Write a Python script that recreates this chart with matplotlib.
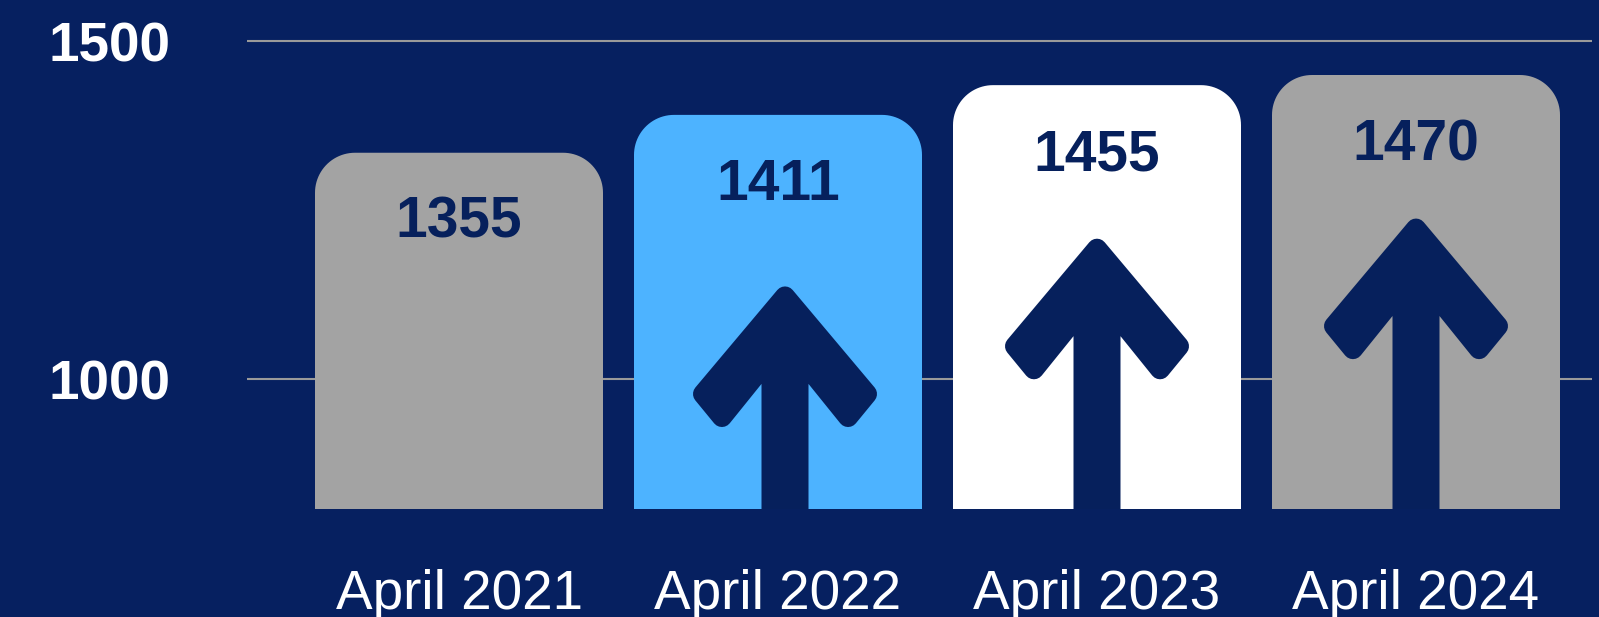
import numpy as np
import matplotlib
matplotlib.use('Agg')
import matplotlib.pyplot as plt
from matplotlib.patches import Polygon

# Data
kategorie = ['April 2021', 'April 2022', 'April 2023', 'April 2024']
hodnoty = [1355, 1411, 1455, 1470]
y_ticky = [1000, 1500]

# Colours
pozadie = '#062060'
farby_stlpcov = ['#a3a3a3', '#4db3ff', '#ffffff', '#a3a3a3']
tmava = '#06205c'
mriezka = '#9a9a9a'

# Arrows (only in bars 2-4): drop of arrow tip below bar top and x shift, in px
sipky = [False, True, True, True]
pokles_sipky = [0, 169, 151, 141]
posun_sipky = [0, 7, 0, 0]

plt.rcParams['font.family'] = ['Liberation Sans', 'DejaVu Sans']

W, H = 1599, 617
fig = plt.figure(figsize=(W / 100, H / 100), dpi=100, facecolor=pozadie)

# axes area in pixels
ax_l, ax_r, ax_b, ax_t = 247, 1592, 509, 0
ax = fig.add_axes([ax_l / W, (H - ax_b) / H, (ax_r - ax_l) / W, (ax_b - ax_t) / H])
ax.set_facecolor(pozadie)

# grid scale: 1500 at y=41px, 1000 at y=379px
ppy = (379 - 41) / 500
y_lo = 1000 - (ax_b - 379) / ppy
y_hi = 1500 + (41 - ax_t) / ppy
ax.set_ylim(y_lo, y_hi)

# x scale: bar centres 319 px apart, first one at 459 px
ppx = 319
x_lo = (ax_l - 459) / ppx
x_hi = (ax_r - 459) / ppx
ax.set_xlim(x_lo, x_hi)

ax.set_yticks(y_ticky)
ax.set_yticklabels([str(t) for t in y_ticky], fontsize=39.5, fontweight='bold', color='white')
ax.grid(axis='y', color=mriezka, linewidth=1.5)
ax.set_axisbelow(True)
ax.tick_params(axis='y', length=0, pad=55)

x = np.arange(len(kategorie))
ax.set_xticks(x)
ax.set_xticklabels(kategorie, fontsize=39.5, color='white')
ax.tick_params(axis='x', length=0, pad=43)

for s in ax.spines.values():
    s.set_visible(False)

# bars live on a twin axis (shifted by ~20 units against the grid, like the original)
ax2 = ax.twinx()
posun = 20.3
ax2.set_ylim(y_lo + posun, y_hi + posun)
ax2.set_yticks([])
for s in ax2.spines.values():
    s.set_visible(False)

sirka = 288 / ppx
rx = 40 / ppx
ry = 40 / ppy


def zaobleny_stlpec(x0, x1, y0, y1, n=24):
    body = [(x0, y0)]
    for t in np.linspace(np.pi, np.pi / 2, n):
        body.append((x0 + rx + rx * np.cos(t), y1 - ry + ry * np.sin(t)))
    for t in np.linspace(np.pi / 2, 0, n):
        body.append((x1 - rx + rx * np.cos(t), y1 - ry + ry * np.sin(t)))
    body.append((x1, y0))
    return body


def zmensi(poly, d):
    # offset a CCW polygon inward by d
    n = len(poly)
    out = []
    for i in range(n):
        p0 = np.array(poly[i - 1], float)
        p1 = np.array(poly[i], float)
        p2 = np.array(poly[(i + 1) % n], float)
        e1 = p1 - p0
        e2 = p2 - p1
        n1 = np.array([-e1[1], e1[0]]) / np.hypot(*e1)
        n2 = np.array([-e2[1], e2[0]]) / np.hypot(*e2)
        a = p0 + d * n1
        b = p1 + d * n2
        A = np.array([e1, -e2]).T
        t = np.linalg.solve(A, b - a)
        out.append(a + t[0] * e1)
    return out


# sharp arrow outline in px, tip at (0, 0), y up, CCW
sipka_px = [(0, 3), (-95, -110), (-63, -149), (-23.5, -100), (-23.5, -700),
            (23.5, -700), (23.5, -100), (63, -149), (95, -110)]
zaoblenie = 10
sipka_vnutro = zmensi(sipka_px, zaoblenie)

for i, v in enumerate(hodnoty):
    x0 = x[i] - sirka / 2
    x1 = x[i] + sirka / 2
    stlpec = Polygon(zaobleny_stlpec(x0, x1, ax2.get_ylim()[0], v), closed=True,
                     facecolor=farby_stlpcov[i], edgecolor='none', zorder=2)
    ax2.add_patch(stlpec)

    ax2.text(x[i], v - 85 / ppy, str(v), ha='center', va='baseline',
             fontsize=41, fontweight='bold', color=tmava, zorder=4)

    if sipky[i]:
        hrot = v - pokles_sipky[i] / ppy
        stred = x[i] + posun_sipky[i] / ppx
        body = [(stred + px / ppx, hrot + py / ppy) for px, py in sipka_vnutro]
        sipka = Polygon(body, closed=True, facecolor=tmava, edgecolor=tmava,
                        linewidth=2 * zaoblenie * 72 / 100, joinstyle='round', zorder=3)
        ax2.add_patch(sipka)
        sipka.set_clip_path(stlpec)

fig.savefig('out.png', dpi=100, facecolor=pozadie)
